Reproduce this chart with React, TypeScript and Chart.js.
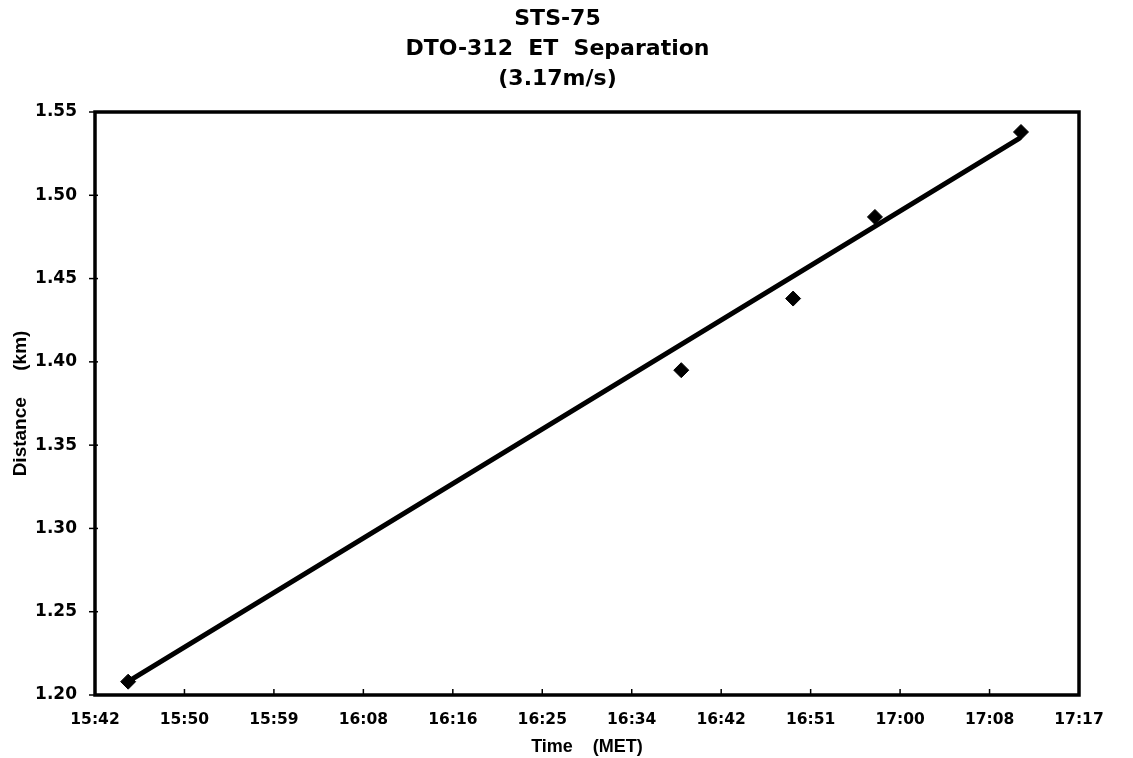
import React, { useEffect, useRef } from "react";
import { Chart, registerables } from "chart.js";

Chart.register(...registerables);

const titleLines = ["STS-75", "DTO-312  ET  Separation", "(3.17m/s)"];
const xAxisTitle = "Time    (MET)";
const yAxisTitle = "Distance     (km)";

const axisStart = "15:42:00";
const axisEnd = "17:17:00";
const xTickLabels = [
  "15:42", "15:50", "15:59", "16:08", "16:16", "16:25",
  "16:34", "16:42", "16:51", "17:00", "17:08", "17:17",
];
const yTickValues = [1.2, 1.25, 1.3, 1.35, 1.4, 1.45, 1.5, 1.55];

// observed points
const obsTimes = ["15:45:12", "16:38:36", "16:49:24", "16:57:18", "17:11:24"];
const obsDistances = [1.208, 1.395, 1.438, 1.487, 1.538];

// fitted line end points
const fitTimes = ["15:45:18", "17:11:12"];
const fitDistances = [1.2085, 1.534];

const FONT = "'DejaVu Sans', 'Liberation Sans', Arial, sans-serif";
const FONT2 = "'Liberation Sans', Arial, sans-serif";

function toSec(t: string): number {
  const [h, m, s] = t.split(":").map(Number);
  return h * 3600 + m * 60 + (s || 0);
}
function toMin(t: string): number {
  return (toSec(t) - toSec(axisStart)) / 60;
}

const framePlugin = {
  id: "frame",
  afterDraw(chart: any) {
    const { ctx, chartArea: a, scales } = chart;
    ctx.save();
    ctx.strokeStyle = "#000";
    ctx.lineWidth = 3.5;
    ctx.strokeRect(a.left, a.top, a.right - a.left, a.bottom - a.top);
    ctx.lineWidth = 1.5;
    const xs = scales.x;
    xs.ticks.forEach((t: any) => {
      const px = xs.getPixelForValue(t.value);
      ctx.beginPath();
      ctx.moveTo(px, a.bottom);
      ctx.lineTo(px, a.bottom - 6);
      ctx.stroke();
    });
    const ys = scales.y;
    ys.ticks.forEach((t: any) => {
      const py = ys.getPixelForValue(t.value);
      ctx.beginPath();
      ctx.moveTo(a.left - 6, py);
      ctx.lineTo(a.left + 3, py);
      ctx.stroke();
    });
    ctx.restore();
  },
};

export default function App() {
  const ref = useRef<HTMLCanvasElement | null>(null);

  useEffect(() => {
    if (!ref.current) return;
    const span = toMin(axisEnd);
    const chart = new Chart(ref.current, {
      type: "scatter",
      data: {
        datasets: [
          {
            label: "fit",
            data: fitTimes.map((t, i) => ({ x: toMin(t), y: fitDistances[i] })),
            showLine: true,
            borderColor: "#000",
            borderWidth: 5,
            borderCapStyle: "round",
            pointRadius: 0,
            order: 2,
          },
          {
            label: "observed",
            data: obsTimes.map((t, i) => ({ x: toMin(t), y: obsDistances[i] })),
            showLine: false,
            pointStyle: "rectRot",
            pointRadius: 7.5,
            backgroundColor: "#000",
            borderColor: "#000",
            order: 1,
          },
        ],
      },
      options: {
        responsive: false,
        animation: false,
        layout: { padding: { left: 0, right: 18, top: 0, bottom: 0 } },
        plugins: {
          legend: { display: false },
          tooltip: { enabled: false },
          title: {
            display: true,
            text: titleLines,
            color: "#000",
            font: { family: FONT, weight: "bold", size: 22, lineHeight: 30 / 22 },
            padding: { top: 4, bottom: 18 },
          },
        },
        scales: {
          x: {
            type: "linear",
            min: 0,
            max: span,
            grid: { display: false },
            border: { display: false },
            afterBuildTicks: (scale: any) => {
              scale.ticks = xTickLabels.map((_, i) => ({
                value: (i * span) / (xTickLabels.length - 1),
              }));
            },
            afterFit: (scale: any) => {
              scale.height = 63;
            },
            ticks: {
              autoSkip: false,
              maxRotation: 0,
              padding: 8,
              color: "#000",
              font: { family: FONT, weight: "bold", size: 15.5 },
              callback: (_v: any, i: number) => xTickLabels[i],
            },
            title: {
              display: true,
              text: xAxisTitle,
              color: "#000",
              font: { family: FONT2, weight: "bold", size: 18 },
              padding: { top: 0, bottom: 0 },
            },
          },
          y: {
            type: "linear",
            min: yTickValues[0],
            max: yTickValues[yTickValues.length - 1],
            grid: { display: false },
            border: { display: false },
            afterBuildTicks: (scale: any) => {
              scale.ticks = yTickValues.map((v) => ({ value: v }));
            },
            afterFit: (scale: any) => {
              scale.width = 95;
            },
            ticks: {
              padding: 10,
              color: "#000",
              font: { family: FONT, weight: "bold", size: 17 },
              callback: (v: any) => Number(v).toFixed(2),
            },
            title: {
              display: true,
              text: yAxisTitle,
              color: "#000",
              font: { family: FONT2, weight: "bold", size: 19 },
              padding: { top: 9, bottom: 0 },
            },
          },
          yRight: {
            type: "linear",
            position: "right",
            display: true,
            min: 0,
            max: 1,
            grid: { display: false },
            border: { display: false },
            ticks: { display: false },
            afterFit: (scale: any) => {
              scale.width = 36;
            },
          },
        },
      },
      plugins: [framePlugin],
    } as any);
    return () => chart.destroy();
  }, []);

  return (
    <canvas
      ref={ref}
      width={1133}
      height={758}
      style={{ position: "absolute", left: 0, top: 0, display: "block", background: "#fff" }}
    />
  );
}
